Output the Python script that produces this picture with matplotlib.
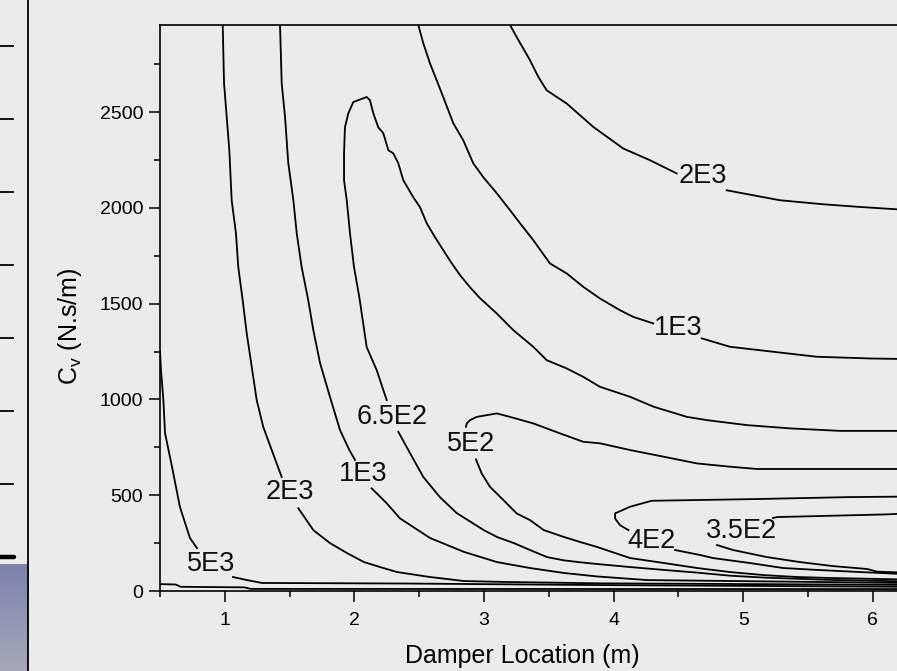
import numpy as np
import matplotlib
matplotlib.use('Agg')
import matplotlib.pyplot as plt
from matplotlib.ticker import MultipleLocator
from matplotlib.colors import LinearSegmentedColormap

plt.rcParams['font.family'] = ['Liberation Sans', 'DejaVu Sans']

# contour lines: damper location (m) vs C_v (N.s/m)
# "a" part runs up to the label, "b" part continues after it
c5e3_xa = [0.500, 0.508, 0.526, 0.539, 0.593, 0.654, 0.731, 0.785]
c5e3_ya = [1250, 1150, 997, 824, 647, 438, 277, 224]
c5e3_xb = [1.063, 1.171, 1.287, 2.406, 3.895, 6.25]
c5e3_yb = [73, 57, 42, 39, 31, 22]

c2e3a_xa = [0.984, 0.994, 1.015, 1.035, 1.053, 1.086, 1.104, 1.138, 1.169, 1.208, 1.246, 1.297, 1.362, 1.439]
c2e3a_ya = [2955, 2651, 2473, 2301, 2040, 1868, 1691, 1518, 1346, 1169, 997, 856, 736, 595]
c2e3a_xb = [1.567, 1.683, 1.812, 1.943, 2.074, 2.198, 2.329, 2.583, 2.846, 3.177, 3.895, 6.25]
c2e3a_yb = [432, 318, 250, 198, 151, 125, 99, 73, 52, 47, 40, 32]

c1e3a_xa = [1.426, 1.439, 1.465, 1.490, 1.529, 1.555, 1.593, 1.644, 1.683, 1.735, 1.812, 1.889, 1.961, 2.005]
c1e3a_ya = [2955, 2651, 2473, 2233, 2040, 1868, 1691, 1518, 1362, 1190, 1012, 840, 736, 684]
c1e3a_xb = [2.133, 2.249, 2.352, 2.583, 2.846, 3.100, 3.355, 3.617, 3.872, 4.258, 6.25]
c1e3a_yb = [536, 458, 379, 277, 204, 151, 120, 94, 76, 57, 42]

c65_xa = [2.249, 2.172, 2.095, 2.056, 2.038, 1.997, 1.966, 1.941, 1.920, 1.920, 1.927, 1.953, 1.992,
          2.095, 2.120, 2.146, 2.184, 2.223, 2.262, 2.300, 2.339, 2.377, 2.454, 2.506, 2.558, 2.622,
          2.686, 2.751, 2.815, 2.892, 2.969, 3.098, 3.226, 3.380, 3.484, 3.638, 3.766, 3.895, 4.127,
          4.309, 4.566, 4.721, 5.029, 5.361, 5.747, 6.25]
c65_ya = [997, 1153, 1273, 1451, 1534, 1691, 1868, 2040, 2145, 2285, 2421, 2494, 2553,
          2579, 2562, 2494, 2421, 2390, 2301, 2285, 2233, 2145, 2056, 2004, 1920, 1847,
          1779, 1711, 1649, 1586, 1529, 1449, 1362, 1275, 1205, 1162, 1118, 1066, 1014,
          962, 909, 892, 866, 849, 836, 836]
c65_xb = [2.339, 2.429, 2.532, 2.660, 2.789, 2.998, 3.100, 3.231, 3.355, 3.486, 3.617, 3.741, 3.872,
          4.127, 4.389, 4.644, 4.898, 5.160, 5.670, 6.25]
c65_yb = [831, 720, 595, 490, 407, 318, 282, 250, 214, 177, 160, 150, 141,
          125, 110, 96, 80, 70, 58, 50]

c5e2_xa = [6.25, 5.106, 4.898, 4.644, 4.387, 4.127, 3.895, 3.766, 3.586, 3.380, 3.201, 3.098, 2.944, 2.892, 2.867, 2.861]
c5e2_ya = [637, 637, 649, 666, 701, 736, 771, 779, 823, 875, 909, 927, 909, 892, 875, 857]
c5e2_xb = [2.938, 2.982, 3.046, 3.149, 3.252, 3.355, 3.461, 3.617, 3.741, 3.872, 4.127, 4.389, 4.644,
           4.898, 5.160, 5.415, 5.670, 6.25]
c5e2_yb = [687, 614, 544, 475, 405, 370, 318, 282, 256, 230, 172, 146, 120,
           99, 83, 73, 68, 60]

c4e2_xa = [6.25, 5.80, 5.10, 4.294, 4.127, 4.011, 4.011, 4.049, 4.114]
c4e2_ya = [493, 490, 480, 471, 440, 405, 379, 344, 318]
c4e2_xb = [4.474, 4.667, 4.767, 5.052, 5.307, 5.569, 5.901, 6.25]
c4e2_yb = [214, 188, 172, 146, 120, 110, 99, 88]

c35_xa = [6.25, 6.110, 5.261, 5.230]
c35_ya = [405, 400, 386, 381]
c35_xb = [4.798, 4.921, 5.184, 5.438, 5.693, 5.955, 6.032, 6.25]
c35_yb = [240, 214, 177, 151, 130, 115, 101, 96]

c1e3b_xa = [2.493, 2.532, 2.583, 2.635, 2.686, 2.763, 2.840, 2.917, 2.995, 3.098, 3.201, 3.278,
            3.380, 3.509, 3.638, 3.766, 3.895, 4.049, 4.152, 4.306]
c1e3b_ya = [2955, 2859, 2755, 2666, 2578, 2442, 2353, 2233, 2160, 2077, 1988, 1920,
            1832, 1710, 1658, 1588, 1527, 1466, 1431, 1397]
c1e3b_xb = [4.680, 4.898, 5.232, 5.567, 5.978, 6.25]
c1e3b_yb = [1319, 1275, 1249, 1223, 1214, 1211]

c2e3b_xa = [3.201, 3.252, 3.355, 3.419, 3.484, 3.638, 3.843, 4.075, 4.281, 4.487]
c2e3b_ya = [2955, 2892, 2771, 2684, 2614, 2545, 2423, 2310, 2249, 2180]
c2e3b_xb = [4.873, 5.284, 5.618, 5.901, 6.25]
c2e3b_yb = [2092, 2040, 2019, 2005, 1990]

# unlabelled line hugging the axis
c1e4_x = [0.5, 0.62, 0.66, 1.15, 1.2, 6.25]
c1e4_y = [36, 34, 22, 19, 11, 10]

label_text = ['5E3', '2E3', '1E3', '6.5E2', '5E2', '4E2', '3.5E2', '1E3', '2E3']
label_x = [0.894, 1.503, 2.066, 2.290, 2.900, 4.289, 4.983, 4.497, 4.690]
label_y = [141, 517, 611, 908, 767, 261, 313, 1372, 2165]

bg = '#ebebeb'
W, H = 897, 671
fig = plt.figure(figsize=(W / 100, H / 100), dpi=100, facecolor=bg)

# main axes, right side runs past the edge of the picture
ax = fig.add_axes([160 / W, 80 / H, 777.6 / W, 566 / H], facecolor=bg)

lw = 1.3
for xs, ys in [(c5e3_xa, c5e3_ya), (c5e3_xb, c5e3_yb),
               (c2e3a_xa, c2e3a_ya), (c2e3a_xb, c2e3a_yb),
               (c1e3a_xa, c1e3a_ya), (c1e3a_xb, c1e3a_yb),
               (c65_xa, c65_ya), (c65_xb, c65_yb),
               (c5e2_xa, c5e2_ya), (c5e2_xb, c5e2_yb),
               (c4e2_xa, c4e2_ya), (c4e2_xb, c4e2_yb),
               (c35_xa, c35_ya), (c35_xb, c35_yb),
               (c1e3b_xa, c1e3b_ya), (c1e3b_xb, c1e3b_yb),
               (c2e3b_xa, c2e3b_ya), (c2e3b_xb, c2e3b_yb),
               (c1e4_x, c1e4_y)]:
    ax.plot(xs, ys, color='black', lw=lw, solid_joinstyle='miter')

for t, lx, ly in zip(label_text, label_x, label_y):
    ax.text(lx, ly, t, ha='center', va='center', fontsize=19.5, color='#111111')

ax.set_xlim(0.5, 6.5)
ax.set_ylim(0, 2955)
ax.xaxis.set_major_locator(MultipleLocator(1))
ax.xaxis.set_minor_locator(MultipleLocator(0.5))
ax.yaxis.set_major_locator(MultipleLocator(500))
ax.yaxis.set_minor_locator(MultipleLocator(250))
ax.tick_params(which='major', length=8, width=1.1, labelsize=14, color='black')
ax.tick_params(which='minor', length=4.5, width=1.1)
ax.tick_params(axis='x', which='major', pad=7)
ax.tick_params(axis='y', which='major', pad=4)
ax.spines['right'].set_visible(False)
for s in ['left', 'bottom', 'top']:
    ax.spines[s].set_linewidth(1.2)

ax.set_xlabel('Damper Location (m)', fontsize=18)
ax.set_ylabel(r'C$_\mathregular{v}$ (N.s/m)', fontsize=18)
ax.xaxis.set_label_coords((522 - 160) / 777.6, (591 - 644) / 566)
ax.yaxis.set_label_coords((84 - 160) / 777.6, (591 - 326) / 566)

# sliver of the neighbouring slide element on the left
axl = fig.add_axes([0, 0, 28 / W, 1], facecolor=bg)
axl.set_xticks([])
axl.set_yticks([])
for s in ['left', 'top', 'bottom']:
    axl.spines[s].set_visible(False)
axl.spines['right'].set_linewidth(1.3)
grad = LinearSegmentedColormap.from_list('g', ['#7d81ab', '#a7a9b9'])
axl.imshow(np.linspace(0, 1, 100)[:, None], extent=(0, 28, H, 564), cmap=grad, aspect='auto')
for yy in [46, 119, 192, 265, 338, 411, 484]:
    axl.plot([0, 13], [yy, yy], color='black', lw=1.3)
axl.plot([0, 14], [557, 557], color='black', lw=3.2, solid_capstyle='round')
axl.set_xlim(0, 28)
axl.set_ylim(H, 0)

fig.savefig('out.png', dpi=100, facecolor=bg)
